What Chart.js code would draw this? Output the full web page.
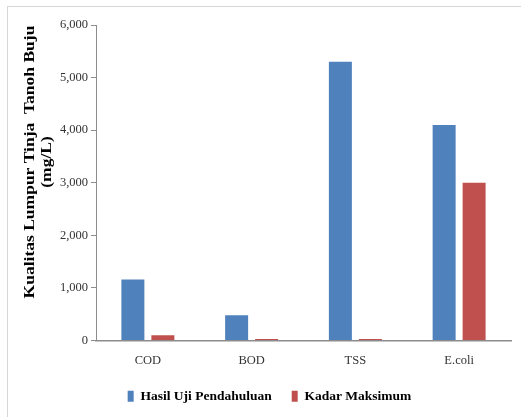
<!DOCTYPE html>
<html>
<head>
<meta charset="utf-8">
<script src="https://cdn.jsdelivr.net/npm/chart.js@4/dist/chart.umd.min.js"></script>
<style>
  html, body { margin: 0; padding: 0; background: #fff; }
  #wrap { position: relative; width: 521px; height: 417px; overflow: hidden; }
  #frame { position: absolute; left: 7px; top: 6px; right: -2px; bottom: -2px;
           border-left: 1px solid #d6d6d6; border-top: 1px solid #d6d6d6; }
  #c { position: absolute; left: 0; top: 0; }
</style>
</head>
<body>
<div id="wrap">
  <div id="frame"></div>
  <canvas id="c" width="521" height="417"></canvas>
</div>
<script>
// Parameters measured in the sludge samples
const categories = ['COD', 'BOD', 'TSS', 'E.coli'];
// Preliminary test results (mg/L)
const hasilUji = [1160, 480, 5300, 4100];
// Maximum permitted levels (mg/L)
const kadarMaksimum = [100, 30, 30, 3000];
const seriesNames = ['Hasil Uji Pendahuluan', 'Kadar Maksimum'];
const yTickValues = [0, 1000, 2000, 3000, 4000, 5000, 6000];
const yTitleLines = ['Kualitas Lumpur Tinja  Tanoh Buju', '(mg/L)'];

const SERIF = "'Liberation Serif', 'Times New Roman', serif";
const AXIS_GREY = '#8c8c8c';

// Rotated two-line axis title, slightly stretched along the text direction
const yTitlePlugin = {
  id: 'yTitle',
  afterDraw(chart) {
    const ctx = chart.ctx;
    const cy = 162;
    const xs = [30, 47];
    ctx.save();
    ctx.fillStyle = '#000';
    ctx.font = 'bold 14px ' + SERIF;
    ctx.textAlign = 'center';
    ctx.textBaseline = 'middle';
    yTitleLines.forEach((line, i) => {
      ctx.save();
      ctx.translate(xs[i], cy);
      ctx.rotate(-Math.PI / 2);
      ctx.scale(1.25, 1);
      ctx.fillText(line, 0, 0);
      ctx.restore();
    });
    ctx.restore();
  }
};

new Chart(document.getElementById('c'), {
  type: 'bar',
  data: {
    labels: categories,
    datasets: [
      { label: seriesNames[0], data: hasilUji, backgroundColor: '#4F81BD' },
      { label: seriesNames[1], data: kadarMaksimum, backgroundColor: '#C0504D' }
    ]
  },
  options: {
    responsive: false,
    animation: false,
    layout: { padding: { left: 28, right: 10, top: 25, bottom: 4 } },
    datasets: { bar: { categoryPercentage: 0.578, barPercentage: 0.767 } },
    plugins: {
      tooltip: { enabled: false },
      legend: {
        position: 'bottom',
        labels: {
          boxWidth: 6,
          boxHeight: 11,
          padding: 20,
          color: '#000',
          font: { family: SERIF, size: 13.5, weight: 'bold' }
        }
      }
    },
    scales: {
      x: {
        grid: { display: false, drawTicks: false },
        border: { display: true, color: AXIS_GREY, width: 1.5 },
        ticks: { color: '#333', padding: 13, font: { family: SERIF, size: 12.5 } },
        afterFit(scale) { scale.height = 29; }
      },
      y: {
        min: 0,
        max: 6000,
        afterBuildTicks(scale) { scale.ticks = yTickValues.map(v => ({ value: v })); },
        grid: { display: true, drawOnChartArea: false, drawTicks: true, tickLength: 5, color: AXIS_GREY },
        border: { display: true, color: AXIS_GREY, width: 1 },
        ticks: {
          color: '#333',
          padding: 3,
          font: { family: SERIF, size: 12.5 },
          callback: v => v.toLocaleString('en-US')
        },
        afterFit(scale) { scale.width = 68; }
      }
    }
  },
  plugins: [yTitlePlugin]
});
</script>
</body>
</html>
